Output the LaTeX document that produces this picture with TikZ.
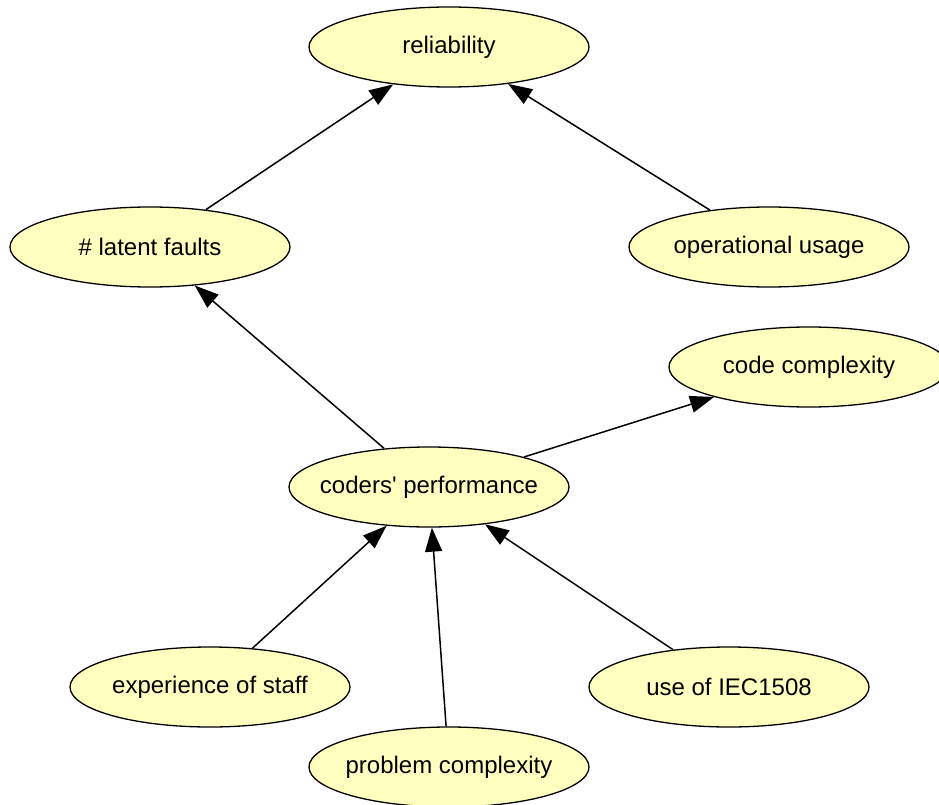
\documentclass[tikz,border=0pt]{standalone}
\usepackage{fontspec}
\setmainfont{Liberation Sans}
\usepackage{xcolor}
\definecolor{factorFill}{HTML}{FFFFC0}
\usetikzlibrary{shapes,positioning,arrows.meta}
\tikzset{%
  factorNode/.style={%
    ellipse,
    draw=black,
    fill=factorFill,
    line width=1.3pt,
    minimum width=280pt,
    minimum height=80pt,
    inner xsep=-20pt,
    inner ysep=0pt,
    font=\fontsize{24}{28}\selectfont
  },
  arrowLine/.style={%
    -{Triangle[length=24pt,width=17pt]},
    line width=1.5pt,
    color=black
  }
}

\begin{document}
\begin{tikzpicture}[x=1pt,y=-1pt]
            \useasboundingbox (0,0) rectangle (939,805);
            \node[factorNode] (reliability) at (449,47) {reliability};
            \node[factorNode] (latent) at (150,247) {\# latent faults};
            \node[factorNode] (usage) at (769,247) {operational usage};
            \node[factorNode] (codecx) at (809,367) {code complexity};
            \node[factorNode] (coders) at (429,487) {coders\textquotesingle{} performance};
            \node[factorNode] (staff) at (210,687) {experience of staff};
            \node[factorNode] (iec) at (729,687) {use of IEC1508};
            \node[factorNode] (problem) at (449,767) {problem complexity};

            \draw[arrowLine] (latent) -- (reliability);
            \draw[arrowLine] (usage) -- (reliability);
            \draw[arrowLine] (coders) -- (latent);
            \draw[arrowLine] (coders) -- (codecx);
            \draw[arrowLine] (staff) -- (coders);
            \draw[arrowLine] (problem) -- (coders);
            \draw[arrowLine] (iec) -- (coders);
        \end{tikzpicture}
\end{document}
